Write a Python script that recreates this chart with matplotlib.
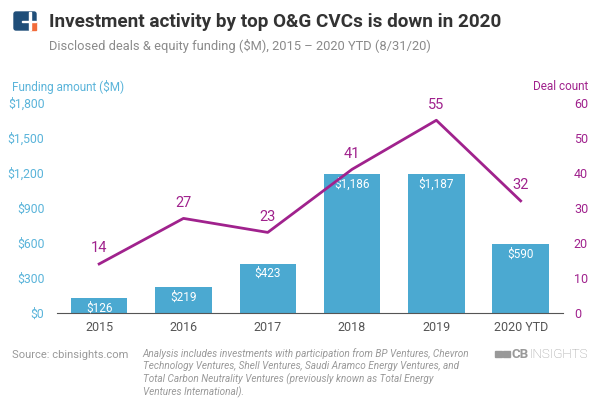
import matplotlib.pyplot as plt
from matplotlib.patches import FancyBboxPatch, Rectangle

# data
years = ["2015", "2016", "2017", "2018", "2019", "2020 YTD"]
funding = [126, 219, 423, 1186, 1187, 590]
deals = [14, 27, 23, 41, 55, 32]

bar_color = "#4BA9D1"
line_color = "#A0228D"
blue_text = "#5AB4DA"

plt.rcParams["font.family"] = ["Roboto", "DejaVu Sans"]

fig = plt.figure(figsize=(6, 3.99), dpi=100)
ax = fig.add_axes([0.095, 0.2155, 0.843, 0.527])
ax2 = ax.twinx()

x = range(len(years))
bars = ax.bar(x, funding, width=0.67, color=bar_color, zorder=2)
for i, v in enumerate(funding):
    ax.text(i, v - 30, "${:,}".format(v), ha="center", va="top",
            color="white", fontsize=8.5)

ax.set_xlim(-0.5, 5.5)
ax.set_ylim(0, 1800)
ax.set_yticks(range(0, 1801, 300))
ax.set_yticklabels(["${:,}".format(t) for t in range(0, 1801, 300)])
ax.set_xticks(list(x))
ax.set_xticklabels(years)
ax.tick_params(axis="y", colors=blue_text, labelsize=8.8, length=0, pad=9)
ax.tick_params(axis="x", colors="#555555", labelsize=9, length=0, pad=6)

ax2.plot(x, deals, color=line_color, lw=2, zorder=3)
for i, d in enumerate(deals):
    ax2.text(i, d + 2.5, str(d), ha="center", va="bottom",
             color=line_color, fontsize=10.5)
ax2.set_ylim(0, 60)
ax2.set_yticks(range(0, 61, 10))
ax2.tick_params(axis="y", colors=line_color, labelsize=9, length=0, pad=8)

for a in (ax, ax2):
    for s in a.spines.values():
        s.set_visible(False)
ax.spines["bottom"].set_visible(True)
ax.spines["bottom"].set_color("#555555")
ax.spines["bottom"].set_linewidth(0.8)

# axis titles
fig.text(0.02, 0.782, "Funding amount ($M)", color=blue_text, fontsize=8.5,
         ha="left", va="center")
fig.text(0.981, 0.782, "Deal count", color=line_color, fontsize=8.5,
         ha="right", va="center")

# header
fig.text(0.082, 0.945, "Investment activity by top O&G CVCs is down in 2020",
         fontsize=13.6, fontweight="bold", color="#333333", ha="left",
         va="center")
fig.text(0.082, 0.884, "Disclosed deals & equity funding ($M), 2015 \u2013 2020 YTD (8/31/20)",
         fontsize=9.3, color="#8A8A8A", ha="left", va="center")

# logo
fig.patches.append(FancyBboxPatch((14, 369), 22, 18, boxstyle="round,pad=0,rounding_size=2",
                                  transform=None, color="#1F4E79", figure=fig))
fig.patches.append(Rectangle((30, 369), 6, 8, transform=None, color="#F26B3A", figure=fig))
fig.patches.append(Rectangle((29, 369), 1.5, 18, transform=None, color="white", figure=fig))
fig.patches.append(Rectangle((22, 377), 14, 1.5, transform=None, color="white", figure=fig))

# footer
fig.text(0.02, 0.11, "Source: cbinsights.com", fontsize=8, color="#999999",
         ha="left", va="center")
fig.text(0.238, 0.128,
         "Analysis includes investments with participation from BP Ventures, Chevron\n"
         "Technology Ventures, Shell Ventures, Saudi Aramco Energy Ventures, and\n"
         "Total Carbon Neutrality Ventures (previously known as Total Energy\n"
         "Ventures International).",
         fontsize=7.2, color="#999999", style="italic", ha="left", va="top",
         linespacing=1.25)

# CB Insights wordmark
fig.patches.append(Rectangle((495, 42), 6.5, 6, transform=None, color="#999999", figure=fig))
fig.patches.append(Rectangle((503, 42), 7, 2.6, transform=None, color="#999999", figure=fig))
fig.patches.append(Rectangle((503, 45.4), 7, 2.6, transform=None, color="#999999", figure=fig))
cb = fig.text(0.853, 0.112, "CB", fontsize=9.6, fontweight="bold", color="#999999",
              ha="left", va="center")
fig.add_artist(plt.Annotation("INSIGHTS", xy=(1, 0.5), xycoords=cb, xytext=(0.3, 0),
                              textcoords="offset points", fontsize=9.6, fontweight="light",
                              color="#999999", ha="left", va="center"))

fig.savefig("out.png", dpi=100)
